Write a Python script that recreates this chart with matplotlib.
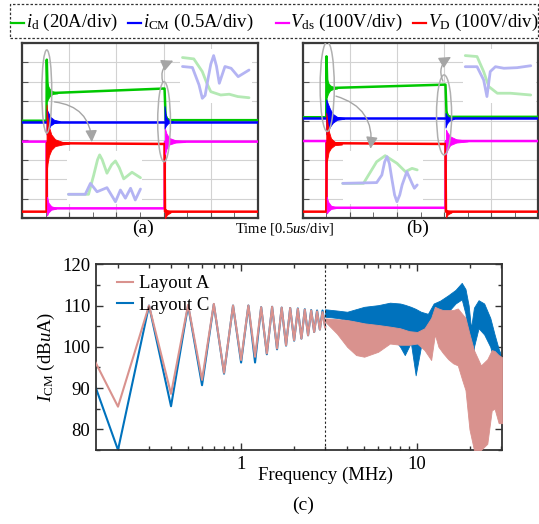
import numpy as np
import matplotlib
matplotlib.use("Agg")
import matplotlib.pyplot as plt
from matplotlib.patches import Ellipse, Rectangle, FancyArrowPatch
from matplotlib.lines import Line2D
from matplotlib.ticker import FuncFormatter, MultipleLocator, LogLocator, NullFormatter

plt.rcParams['font.family'] = ['Liberation Serif', 'DejaVu Serif']
plt.rcParams['mathtext.fontset'] = 'custom'
plt.rcParams['mathtext.rm'] = 'Liberation Serif'
plt.rcParams['mathtext.it'] = 'Liberation Serif:italic'
plt.rcParams['mathtext.bf'] = 'Liberation Serif:bold'

# ---------------- scope waveforms (units = divisions) ----------------
# panel (a)
a_green_t = [0, 0.52, 0.525, 0.545, 0.62, 3.00, 3.02, 3.045, 5.0]
a_green_y = [5.0, 5.0, 8.13, 6.3, 6.42, 6.65, 6.65, 5.03, 5.03]
a_green_ring1 = ([0.53, 0.56, 0.60, 0.66, 0.75], [7.0, 6.75, 6.58, 6.5, 6.45], [6.0, 6.15, 6.3, 6.38, 6.4])
a_green_ring2 = ([3.04, 3.08, 3.15], [5.35, 5.15, 5.06], [4.85, 4.95, 5.0])
a_blue_t = [0, 5.0]
a_blue_y = [4.95, 4.95]
a_blue_ring1 = ([0.52, 0.55, 0.60, 0.68, 0.80], [5.6, 5.45, 5.2, 5.05, 4.98], [4.3, 4.5, 4.75, 4.88, 4.93])
a_blue_ring2 = ([3.02, 3.05, 3.10, 3.20], [5.75, 5.2, 5.02, 4.97], [4.6, 4.75, 4.88, 4.93])
a_mag_t = [0, 0.52, 0.53, 3.02, 3.03, 5.0]
a_mag_y = [3.93, 3.93, 0.51, 0.51, 3.93, 3.93]
a_mag_ring1 = ([0.53, 0.56, 0.62, 0.72], [1.1, 0.8, 0.62, 0.54], [0.15, 0.3, 0.44, 0.49])
a_mag_ring2 = ([3.03, 3.06, 3.12, 3.25, 3.45], [4.6, 4.35, 4.12, 4.0, 3.95], [3.3, 3.55, 3.78, 3.88, 3.91])
a_red_t = [0, 0.52, 0.53, 3.02, 3.03, 5.0]
a_red_y = [0.34, 0.34, 3.85, 3.81, 0.34, 0.34]
a_red_ring1 = ([0.52, 0.54, 0.57, 0.62, 0.7, 0.85, 1.0], [5.83, 5.2, 4.7, 4.3, 4.05, 3.92, 3.87],
               [2.3, 2.8, 3.2, 3.5, 3.7, 3.78, 3.82])
a_red_ring2 = ([3.03, 3.07, 3.15], [0.5, 0.42, 0.36], [0.0, 0.18, 0.3])

# panel (b)
b_green_t = [0, 0.50, 0.505, 0.525, 0.60, 3.01, 3.03, 3.055, 5.0]
b_green_y = [5.18, 5.18, 8.3, 6.5, 6.68, 6.85, 6.85, 5.2, 5.2]
b_green_ring1 = ([0.51, 0.54, 0.58, 0.64, 0.73], [7.2, 6.95, 6.82, 6.74, 6.7], [6.2, 6.4, 6.55, 6.62, 6.65])
b_green_ring2 = ([3.05, 3.09, 3.16], [5.5, 5.3, 5.22], [5.0, 5.1, 5.16])
b_blue_t = [0, 5.0]
b_blue_y = [5.13, 5.13]
b_blue_ring1 = ([0.50, 0.53, 0.58, 0.64, 0.73, 0.88], [6.1, 5.9, 5.6, 5.35, 5.2, 5.15],
                [4.3, 4.45, 4.7, 4.9, 5.05, 5.1])
b_blue_ring2 = ([3.03, 3.06, 3.11, 3.21], [5.4, 5.25, 5.17, 5.14], [4.65, 4.85, 5.0, 5.1])
b_mag_t = [0, 0.50, 0.51, 3.03, 3.04, 5.0]
b_mag_y = [3.96, 3.96, 0.54, 0.54, 3.96, 3.96]
b_mag_ring1 = ([0.51, 0.54, 0.60, 0.70], [1.1, 0.85, 0.65, 0.57], [0.25, 0.35, 0.48, 0.52])
b_mag_ring2 = ([3.04, 3.07, 3.13, 3.26, 3.5], [4.55, 4.4, 4.2, 4.05, 3.98], [3.3, 3.5, 3.75, 3.88, 3.94])
b_red_t = [0, 0.50, 0.51, 3.03, 3.04, 5.0]
b_red_y = [0.34, 0.34, 3.85, 3.81, 0.34, 0.34]
b_red_ring1 = ([0.50, 0.52, 0.55, 0.60, 0.68, 0.83], [5.4, 5.0, 4.5, 4.1, 3.92, 3.85],
               [2.9, 3.0, 3.4, 3.6, 3.75, 3.78])
b_red_ring2 = ([3.04, 3.08, 3.16], [0.45, 0.4, 0.36], [0.05, 0.2, 0.3])

# zoomed (faded) detail waveforms
a_zoom_on_green = ([0.985, 1.41, 1.52, 1.60, 1.645, 1.70, 1.80, 1.90, 1.98, 2.06, 2.155, 2.33, 2.51],
                   [1.23, 1.23, 2.22, 3.0, 3.25, 3.0, 2.31, 2.75, 2.94, 2.6, 2.02, 2.36, 2.08])
a_zoom_on_blue = ([0.985, 1.34, 1.45, 1.59, 1.80, 1.98, 2.085, 2.19, 2.30, 2.40, 2.51],
                  [1.23, 1.23, 1.79, 1.36, 1.57, 0.85, 1.45, 1.03, 1.54, 0.94, 1.50])
a_zoom_off_green = ([3.40, 3.64, 3.82, 3.92, 4.0, 4.21, 4.39, 4.57, 4.81],
                    [8.24, 8.17, 7.52, 6.9, 6.49, 6.32, 6.36, 6.24, 6.18])
a_zoom_off_blue = ([3.40, 3.61, 3.75, 3.82, 3.88, 3.93, 4.0, 4.06, 4.12, 4.18, 4.30, 4.43, 4.58, 4.81],
                   [7.78, 7.73, 6.84, 6.15, 6.3, 7.0, 7.9, 8.34, 7.8, 6.92, 7.78, 7.69, 7.26, 7.6])
b_zoom_on_green = ([0.85, 1.29, 1.57, 1.75, 2.0, 2.18, 2.32, 2.43],
                   [1.79, 1.79, 2.90, 3.21, 2.82, 2.39, 2.56, 2.48])
b_zoom_on_blue = ([0.85, 1.57, 1.68, 1.74, 1.79, 1.84, 1.89, 1.95, 2.0, 2.06, 2.11, 2.21, 2.32, 2.37, 2.43],
                  [1.79, 1.83, 2.22, 2.9, 3.16, 2.8, 2.05, 1.2, 0.85, 1.2, 1.71, 2.39, 1.79, 1.54, 1.71])
b_zoom_off_green = ([3.45, 3.70, 3.84, 3.95, 4.13, 4.41, 4.84],
                    [8.34, 8.29, 7.52, 6.75, 6.41, 6.41, 6.32])
b_zoom_off_blue = ([3.45, 3.70, 3.84, 3.91, 3.98, 4.09, 4.27, 4.55, 4.84],
                   [7.77, 7.77, 7.09, 6.24, 7.52, 7.77, 7.69, 7.72, 7.82])

# ---------------- CM current spectrum ----------------
harmonic_mhz = np.arange(1, 31) * 0.1
layoutA_low = [110.8, 85.5, 110.0, 88.6, 110.2, 92.0, 110.4, 93.7, 110.0, 96.8,
               110.0, 97.6, 109.6, 98.4, 109.7, 99.6, 109.5, 100.4, 109.4, 101.6,
               109.2, 102.0, 109.0, 102.8, 108.8, 103.6, 108.6, 104.2, 108.4, 104.7]
layoutC_low = [111.0, 75.0, 110.0, 85.6, 110.0, 90.7, 110.3, 93.5, 110.0, 96.2,
               110.0, 96.2, 109.6, 98.2, 109.7, 99.4, 109.5, 100.3, 109.4, 101.5,
               109.3, 102.0, 109.1, 102.8, 108.9, 103.6, 108.8, 104.2, 108.8, 105.0]
layoutC_hf_f = [3.0, 3.5, 4.0, 5.0, 6.0, 7.0, 8.0, 8.5, 9.2, 9.8, 10.5, 11.5, 12.4, 13.5,
                15.0, 16.5, 17.9, 18.8, 19.6, 20.2, 21.0, 22.3, 24.0, 26.0, 27.5, 29.0, 30.3]
layoutC_hf_hi = [109.1, 108.8, 108.5, 109.7, 110.1, 110.7, 110.5, 110.2, 109.7, 109.2, 108.5,
                 108.0, 110.5, 111.2, 112.5, 113.8, 115.5, 114.0, 110.0, 104.5, 109.5, 111.3,
                 110.5, 107.0, 103.0, 99.5, 97.5]
layoutC_hf_lo = [107.3, 107.0, 106.5, 105.7, 104.5, 103.2, 100.0, 98.0, 101.0, 93.1, 100.0,
                 105.7, 108.1, 108.5, 108.5, 110.5, 111.5, 108.0, 100.0, 86.3, 100.0, 104.5,
                 103.0, 100.0, 96.0, 93.0, 82.0]
layoutA_hf_f = [3.0, 3.5, 4.0, 4.5, 5.0, 6.0, 7.0, 8.0, 9.0, 10.0, 11.0, 12.0, 12.6, 13.2,
                14.0, 15.0, 16.0, 17.0, 18.0, 18.8, 19.8, 21.0, 23.0, 25.0, 26.5, 27.5, 29.0, 30.3]
layoutA_hf_hi = [106.9, 106.7, 106.5, 106.1, 105.7, 105.3, 104.9, 104.5, 103.8, 103.6, 104.5,
                 107.0, 109.7, 109.3, 108.9, 108.9, 108.9, 109.3, 108.0, 107.0, 103.2, 99.2,
                 95.5, 97.0, 99.2, 99.0, 98.0, 97.5]
layoutA_hf_lo = [106.1, 103.2, 100.0, 98.0, 97.6, 98.8, 100.8, 100.5, 100.5, 100.8, 99.2,
                 96.8, 103.0, 100.0, 98.5, 97.0, 96.0, 95.5, 92.0, 89.5, 80.0, 75.0, 75.0,
                 76.5, 84.6, 85.0, 81.5, 81.5]

GREEN, BLUE, MAG, RED = '#00c800', '#0000ff', '#ff00ff', '#ff0000'
LGREEN, LBLUE = '#b4e9b4', '#b4b4f3'
PINK, MBLUE = '#d9928e', '#0072bd'

W, H = 539, 524
fig = plt.figure(figsize=(W / 100, H / 100), dpi=100)


def px_axes(l, t, r, b):
    return fig.add_axes([l / W, 1 - b / H, (r - l) / W, (b - t) / H])


def scope(ax, traces, rings, zooms, boxes, ellipses, arrows):
    ax.set_xlim(0, 5)
    ax.set_ylim(0, 9)
    ax.set_xticks(range(6))
    ax.xaxis.set_minor_locator(MultipleLocator(0.5))
    ax.set_yticks(range(10))
    ax.set_axisbelow(True)
    ax.grid(True, color='#d2d2d2', lw=0.8)
    ax.tick_params(which='both', direction='in', labelleft=False, labelbottom=False,
                   color='#555555', length=4)
    for s in ax.spines.values():
        s.set_color('#3a3a3a')
        s.set_linewidth(1.6)
    for (x0, y0, x1, y1) in boxes:
        ax.add_patch(Rectangle((x0, y0), x1 - x0, y1 - y0, fc='white', ec='none', zorder=1))
    for (t, y), c in zooms:
        ax.plot(t, y, color=c, lw=2.0, zorder=1.3, solid_joinstyle='round', solid_capstyle='round')
    for (t, y), c in traces:
        ax.plot(t, y, color=c, lw=1.8, zorder=3)
    for (t, hi, lo), c in rings:
        ax.fill_between(t, lo, hi, color=c, lw=0.6, zorder=3)
    for (cx, cy, w, h) in ellipses:
        ax.add_patch(Ellipse((cx, cy), w, h, fill=False, ec='#b0b0b0', lw=1.1, zorder=4))
    for (p0, p1, rad) in arrows:
        ax.add_patch(FancyArrowPatch(p0, p1, connectionstyle=f'arc3,rad={rad}',
                                     arrowstyle='-|>,head_length=0.5,head_width=0.25',
                                     mutation_scale=14, color='#a5a5a5', lw=1.0, zorder=4))


ax_a = px_axes(22, 42.7, 258, 218.3)
scope(ax_a,
      [((a_green_t, a_green_y), GREEN), ((a_blue_t, a_blue_y), BLUE),
       ((a_mag_t, a_mag_y), MAG), ((a_red_t, a_red_y), RED)],
      [(a_green_ring1, GREEN), (a_green_ring2, GREEN), (a_blue_ring1, BLUE), (a_blue_ring2, BLUE),
       (a_mag_ring1, MAG), (a_mag_ring2, MAG), (a_red_ring1, RED), (a_red_ring2, RED)],
      [(a_zoom_on_green, LGREEN), (a_zoom_on_blue, LBLUE),
       (a_zoom_off_green, LGREEN), (a_zoom_off_blue, LBLUE)],
      [(0.95, 0.75, 2.55, 3.45), (3.35, 5.9, 4.87, 8.7)],
      [(0.525, 6.5, 0.21, 4.26), (3.01, 4.95, 0.27, 4.1)],
      [((0.63, 5.98), (1.48, 3.76), -0.45), ((3.0, 6.84), (3.26, 8.13), -0.5)])

ax_b = px_axes(302.7, 42.7, 538.3, 218.3)
scope(ax_b,
      [((b_green_t, b_green_y), GREEN), ((b_blue_t, b_blue_y), BLUE),
       ((b_mag_t, b_mag_y), MAG), ((b_red_t, b_red_y), RED)],
      [(b_green_ring1, GREEN), (b_green_ring2, GREEN), (b_blue_ring1, BLUE), (b_blue_ring2, BLUE),
       (b_mag_ring1, MAG), (b_mag_ring2, MAG), (b_red_ring1, RED), (b_red_ring2, RED)],
      [(b_zoom_on_green, LGREEN), (b_zoom_on_blue, LBLUE),
       (b_zoom_off_green, LGREEN), (b_zoom_off_blue, LBLUE)],
      [(0.85, 0.75, 2.55, 3.45), (3.4, 5.9, 4.95, 8.7)],
      [(0.52, 6.75, 0.3, 4.6), (3.0, 5.3, 0.32, 4.1)],
      [((0.65, 6.3), (1.43, 3.42), -0.45), ((3.0, 6.9), (3.2, 8.34), -0.5)])

# top legend box
fig.add_artist(Rectangle((10 / W, 1 - 38 / H), 527.5 / W, 34.5 / H, transform=fig.transFigure,
                         fill=False, ec='#333333', lw=0.9, ls=(0, (2, 1.5))))
leg_items = [(GREEN, 11, r'$i_{\rm d}$ (20A/div)'), (BLUE, 128, r'$i_{\rm CM}$ (0.5A/div)'),
             (MAG, 275.5, r'$V_{\rm ds}$ (100V/div)'), (RED, 413, r'$V_{\rm D}$ (100V/div)')]
for c, x0, lab in leg_items:
    fig.add_artist(Line2D([x0 / W, (x0 + 13) / W], [1 - 23 / H] * 2, color=c, lw=1.6,
                          transform=fig.transFigure))
    fig.text((x0 + 15) / W, 1 - 22 / H, lab, fontsize=13.5, ha='left', va='center')

fig.text(143 / W, 1 - 228 / H, '(a)', fontsize=14, ha='center', va='center')
fig.text(418 / W, 1 - 228 / H, '(b)', fontsize=14, ha='center', va='center')
fig.text(285 / W, 1 - 229 / H, r'Time [0.5$us$/div]', fontsize=10.5, ha='center', va='center')

# spectrum
ax_c = px_axes(96, 264.3, 502, 450)
ax_c.plot(harmonic_mhz, layoutC_low, color=MBLUE, lw=1.5, zorder=2, label='Layout C')
ax_c.fill_between(layoutC_hf_f, layoutC_hf_lo, layoutC_hf_hi, color=MBLUE, lw=0.6, zorder=2)
ax_c.plot(harmonic_mhz, layoutA_low, color=PINK, lw=1.5, zorder=3, label='Layout A')
ax_c.fill_between(layoutA_hf_f, layoutA_hf_lo, layoutA_hf_hi, color=PINK, lw=0.6, zorder=3)
ax_c.axvline(3.0, color='#222222', lw=0.8, ls=(0, (2, 2)), zorder=4)
ax_c.set_xscale('log')
ax_c.set_xlim(0.15, 30.3)
ax_c.set_ylim(75, 120)
ax_c.yaxis.set_major_locator(MultipleLocator(10))
ax_c.yaxis.set_minor_locator(MultipleLocator(5))
ax_c.xaxis.set_major_locator(LogLocator(base=10))
ax_c.xaxis.set_minor_locator(LogLocator(base=10, subs=np.arange(2, 10)))
ax_c.xaxis.set_major_formatter(FuncFormatter(lambda v, p: f'{v:g}'))
ax_c.xaxis.set_minor_formatter(NullFormatter())
ax_c.tick_params(which='both', direction='in', top=True, right=True, labelsize=13.5,
                 color='#333333', width=1.0)
ax_c.tick_params(which='major', length=5, pad=4)
ax_c.tick_params(which='minor', length=3)
for s in ax_c.spines.values():
    s.set_color('#333333')
    s.set_linewidth(1.3)
ax_c.set_xlabel('Frequency (MHz)', fontsize=13.5)
ax_c.xaxis.set_label_coords((325 - 96) / 406, -(467 - 450) / 185.7)
ax_c.set_ylabel(r'$I_{\rm CM}$ (dB$u$A)', fontsize=13.5, labelpad=4)
handles, labels = ax_c.get_legend_handles_labels()
ax_c.legend(handles[::-1], labels[::-1], loc='upper left', frameon=False, fontsize=13.5,
            handlelength=0.85, handletextpad=0.3, labelspacing=0.25, borderaxespad=0,
            borderpad=0, bbox_to_anchor=((117 - 96) / 406, (450 - 275) / 185.7))
fig.text(303 / W, 1 - 505 / H, '(c)', fontsize=14, ha='center', va='center')

fig.savefig('out.png', dpi=100)
